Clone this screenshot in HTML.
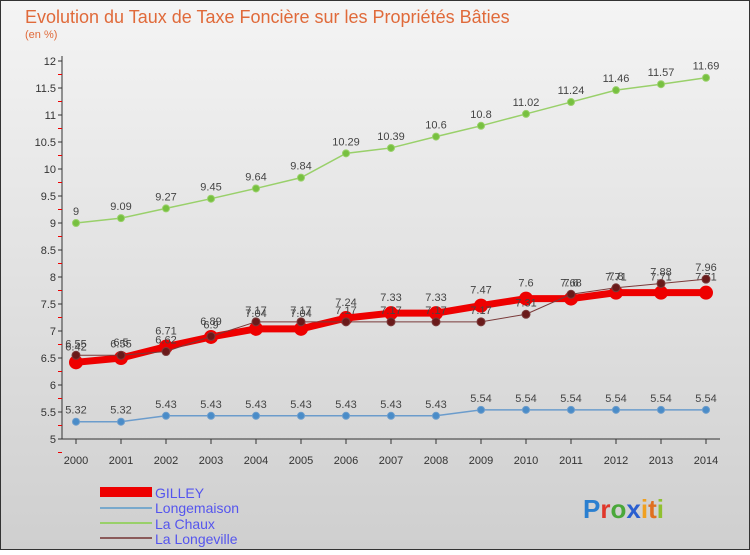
<!DOCTYPE html>
<html><head><meta charset="utf-8"><style>
body{margin:0;width:750px;height:550px;overflow:hidden;font-family:"Liberation Sans",sans-serif}
</style></head><body>
<svg width="750" height="550" xmlns="http://www.w3.org/2000/svg">
<defs><linearGradient id="bg" x1="0" y1="0" x2="0" y2="1"><stop offset="0" stop-color="#f4f4f4"/><stop offset="1" stop-color="#cfcfcf"/></linearGradient></defs>
<rect x="0.5" y="0.5" width="749" height="549" fill="url(#bg)" stroke="#333"/>
<text x="25" y="23" font-size="18" fill="#e06a3a">Evolution du Taux de Taxe Foncière sur les Propriétés Bâties</text>
<text x="25" y="38" font-size="11" fill="#e06a3a">(en %)</text>
<g id="axes"></g><g id="plot"></g>
<g>
<rect x="100" y="487" width="52" height="10" fill="#ee0000"/>
<text x="155" y="498" font-size="14" fill="#5555ee">GILLEY</text>
<rect x="100" y="507" width="52" height="2" fill="#79a9cc"/>
<text x="155" y="513" font-size="14" fill="#5555ee">Longemaison</text>
<rect x="100" y="522" width="52" height="2" fill="#99d06a"/>
<text x="155" y="529" font-size="14" fill="#5555ee">La Chaux</text>
<rect x="100" y="537" width="52" height="2" fill="#8a5a5a"/>
<text x="155" y="544" font-size="14" fill="#5555ee">La Longeville</text>
</g>
<text x="583" y="518" font-size="26" font-weight="bold"><tspan fill="#2a7fd0">P</tspan><tspan fill="#e0372a">r</tspan><tspan fill="#4aa83a">o</tspan><tspan fill="#2a5fd0">x</tspan><tspan fill="#f0a020">i</tspan><tspan fill="#e07020">t</tspan><tspan fill="#90c030">i</tspan></text>
</svg>
<script>
const years=[2000,2001,2002,2003,2004,2005,2006,2007,2008,2009,2010,2011,2012,2013,2014];
const yTicks=[5,5.5,6,6.5,7,7.5,8,8.5,9,9.5,10,10.5,11,11.5,12];
const gilley=[6.42,6.5,6.71,6.89,7.04,7.04,7.24,7.33,7.33,7.47,7.6,7.6,7.71,7.71,7.71];
const longemaison=[5.32,5.32,5.43,5.43,5.43,5.43,5.43,5.43,5.43,5.54,5.54,5.54,5.54,5.54,5.54];
const laChaux=[9,9.09,9.27,9.45,9.64,9.84,10.29,10.39,10.6,10.8,11.02,11.24,11.46,11.57,11.69];
const laLongeville=[6.55,6.55,6.62,6.9,7.17,7.17,7.17,7.17,7.17,7.17,7.31,7.68,7.8,7.88,7.96];
const NS="http://www.w3.org/2000/svg";
const xS=i=>76+i*45, yS=v=>439-(v-5)*54;
function mk(t,a,p){const e=document.createElementNS(NS,t);for(const k in a)e.setAttribute(k,a[k]);p.appendChild(e);return e;}
const ax=document.getElementById('axes'),pl=document.getElementById('plot');
let l=mk('line',{x1:62,y1:56,x2:62,y2:439,stroke:'#333'},ax);

l=mk('line',{x1:62,y1:439,x2:720,y2:439,stroke:'#333'},ax);

yTicks.forEach(v=>{const y=yS(v);mk('line',{x1:58,y1:y,x2:62,y2:y,stroke:'#333'},ax);
mk('line',{x1:58,y1:y+13.5,x2:62,y2:y+13.5,stroke:'#e00'},ax);
const t=mk('text',{x:56,y:y+4,'font-size':11,'text-anchor':'end',fill:'#333'},ax);t.textContent=v;
});
years.forEach((yr,i)=>{mk('line',{x1:xS(i),y1:439,x2:xS(i),y2:444,stroke:'#333'},ax);
const t=mk('text',{x:xS(i),y:464,'font-size':11,'text-anchor':'middle',fill:'#333'},ax);t.textContent=yr;
});
function series(vals,name,color,lw,r,dot,labOff){
const g=mk('g',{},pl);
const pts=vals.map((v,i)=>xS(i)+','+yS(v)).join(' ');
const p=mk('polyline',{points:pts,fill:'none',stroke:color,'stroke-width':lw},g);

vals.forEach((v,i)=>{const c=mk('circle',{cx:xS(i),cy:yS(v),r:r,fill:dot,stroke:color,'stroke-width':1},g);

const t=mk('text',{x:xS(i),y:yS(v)-labOff,'font-size':11,'text-anchor':'middle',fill:'#444'},g);t.textContent=v;
});}
series(laChaux,'la-chaux','#99d06a',1.5,3.5,'#77c040',8);
series(longemaison,'longemaison','#6b9ccc',1.5,3.5,'#4a8cc8',8);
series(gilley,'gilley','#ee0000',7,6.5,'#ee0000',12);
series(laLongeville,'la-longeville','#7a3a3a',1,4,'#6a1a1a',8);
</script>
</body></html>
